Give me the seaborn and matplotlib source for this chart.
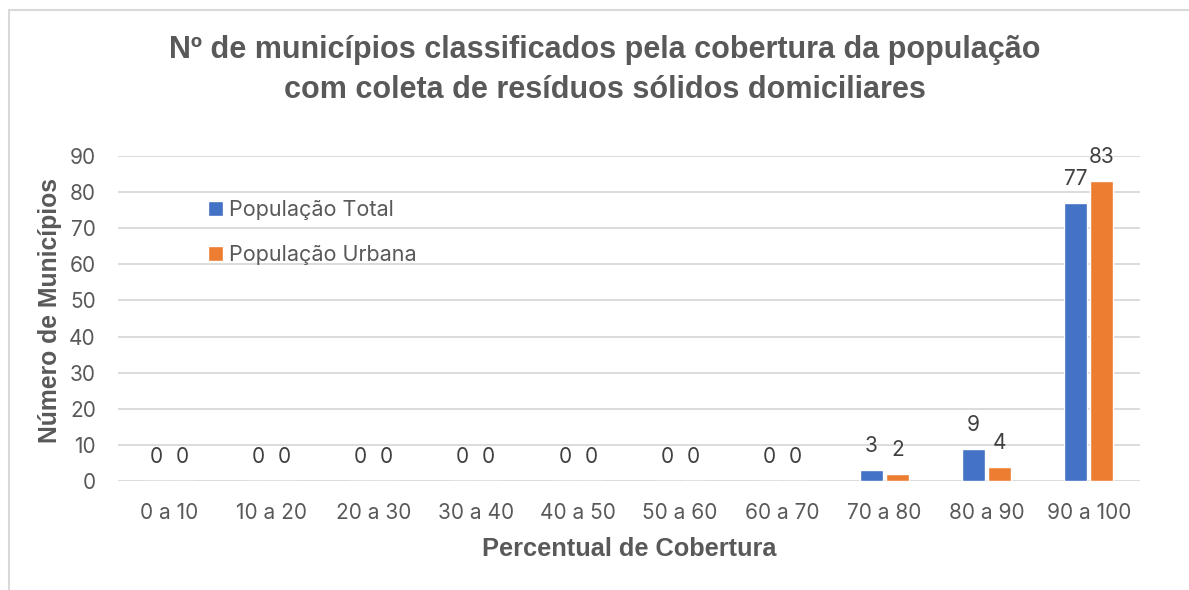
import matplotlib
matplotlib.use("Agg")
import matplotlib.pyplot as plt
import seaborn as sns
import pandas as pd
from matplotlib.patches import Rectangle

categories = ["0 a 10", "10 a 20", "20 a 30", "30 a 40", "40 a 50",
              "50 a 60", "60 a 70", "70 a 80", "80 a 90", "90 a 100"]
pop_total = [0, 0, 0, 0, 0, 0, 0, 3, 9, 77]
pop_urbana = [0, 0, 0, 0, 0, 0, 0, 2, 4, 83]
series_names = ["População Total", "População Urbana"]
title = "Nº de municípios classificados pela cobertura da população\ncom coleta de resíduos sólidos domiciliares"
xlabel = "Percentual de Cobertura"
ylabel = "Número de Municípios"
yticks = [0, 10, 20, 30, 40, 50, 60, 70, 80, 90]

df = pd.DataFrame({
    "cat": categories * 2,
    "val": pop_total + pop_urbana,
    "serie": [series_names[0]] * len(categories) + [series_names[1]] * len(categories),
})

sns.set_theme(style="white")
plt.rcParams["font.family"] = ["Inter", "DejaVu Sans"]

TXT = "#595959"
GRID = "#D9D9D9"
palette = {series_names[0]: "#4472C4", series_names[1]: "#ED7D31"}

fig = plt.figure(figsize=(11.89, 5.90), dpi=100)
ax = fig.add_axes([118/1189, 1 - 481/590, (1140-118)/1189, (481-156)/590])

sns.barplot(data=df, x="cat", y="val", hue="serie", palette=palette,
            width=0.51, gap=0.12, ax=ax, saturation=1, legend=True, order=categories)

for cont in ax.containers:
    ax.bar_label(cont, fmt="%d", padding=10, fontsize=15, color="#404040")

ax.set_ylim(0, 90)
ax.set_xlim(-0.5, 9.5)
ax.set_yticks(yticks)
ax.yaxis.grid(True, color=GRID, linewidth=1.3)
ax.set_axisbelow(True)
for s in ax.spines.values():
    s.set_visible(False)
ax.tick_params(axis="both", length=0, labelsize=15, colors=TXT)
ax.tick_params(axis="x", pad=16)
ax.tick_params(axis="y", pad=16)

ax.set_xlabel(xlabel, fontsize=18.3, fontweight="bold", color=TXT,
              family=["Liberation Sans", "DejaVu Sans"], labelpad=10)
ax.set_ylabel(ylabel, fontsize=17.8, fontweight="bold", color=TXT,
              family=["Liberation Sans", "DejaVu Sans"])
ax.yaxis.set_label_coords((50 - 118) / 1022, (481 - 310) / 325)
ax.yaxis.label.set_va("center")

fig.text(0.5 * (168 + 1042) / 1189, 1 - 70/590, title, ha="center", va="center",
         fontsize=22, fontweight="bold", color=TXT, linespacing=1.4,
         family=["Liberation Sans", "DejaVu Sans"])

leg = ax.legend(loc="upper left", bbox_to_anchor=((199-118)/1022, (481-191)/325),
                frameon=False, fontsize=15.5, handlelength=0.7, handleheight=0.7,
                handletextpad=0.3, labelspacing=1.2, borderaxespad=0)
for t in leg.get_texts():
    t.set_color(TXT)

fig.patches.append(Rectangle((9/1189, -0.1), 1.2, 1 - 10/590 + 0.1, fill=False,
                             edgecolor=GRID, linewidth=1.5, transform=fig.transFigure))

fig.savefig("out.png", dpi=100, facecolor="white")
